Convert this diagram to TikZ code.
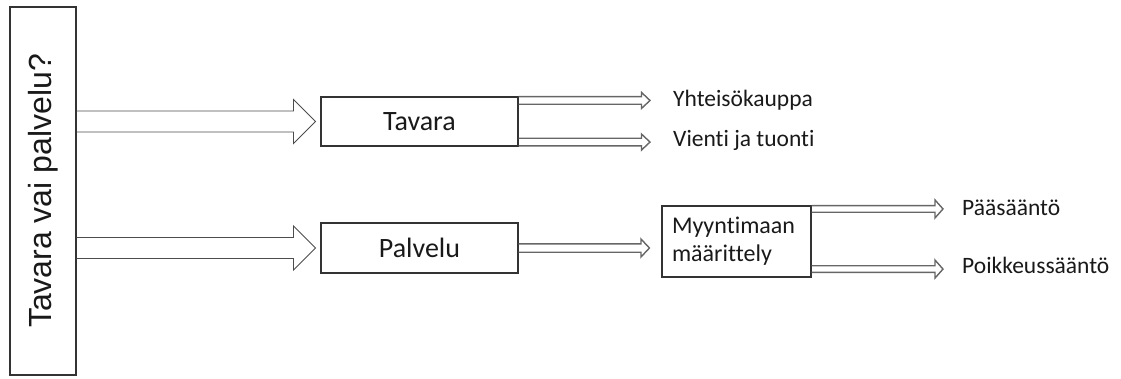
\documentclass[tikz,border=0pt]{standalone}
\usepackage{fontspec}
\setmainfont{Carlito}[Ligatures={NoCommon}]
\newfontfamily\arialfont{Liberation Sans}
\usepackage{graphicx}
\usetikzlibrary{calc}

\begin{document}
\begin{tikzpicture}[x=1pt, y=-1pt,
	box/.style={draw=black!80, line width=1.1pt, inner sep=0pt, text=black!90},
	lbl/.style={anchor=west, inner sep=0pt, text height=15pt, text depth=5pt,
		font=\fontsize{23.5}{28}\selectfont, text=black!90},
	fat/.style n args={3}{draw=black!70, line width=0.9pt,
		to path={let \p1=(\tikztostart), \p2=(\tikztotarget) in
			(\x1,\y1+#1) -- (\x2-#3,\y1+#1) -- (\x2-#3,\y1+#2) -- (\x2,\y1)
			-- (\x2-#3,\y1-#2) -- (\x2-#3,\y1-#1) -- (\x1,\y1-#1)}},
	slim/.style n args={3}{fat={#1}{#2}{#3}, draw=black!60, line width=1.4pt}]
	\useasboundingbox (0,0) rectangle (1121,378);
	% boxes
	\node[box, minimum width=66pt, minimum height=368pt] (q) at (43,191)
		{\rotatebox{90}{\arialfont\fontsize{32}{38}\selectfont Tavara vai palvelu?}};
	\node[box, minimum width=197pt, minimum height=49pt, font=\fontsize{28}{34}\selectfont] (tavara) at (419.5,121.5) {Tavara};
	\node[box, minimum width=197pt, minimum height=50pt, font=\fontsize{28}{34}\selectfont] (palvelu) at (419.5,248) {Palvelu};
	\node[box, minimum width=149pt, minimum height=71pt, inner xsep=10pt, text width=129pt, align=left,
		font=\fontsize{24}{28}\selectfont] (myynti) at (736.5,241.5) {Myyntimaan\\määrittely};
	% labels on the right
	\node[lbl] (yht) at (673,101) {Yhteisökauppa};
	\node[lbl] (vie) at (673,141.5) {Vienti ja tuonti};
	\node[lbl] (paa) at (962,210) {Pääsääntö};
	\node[lbl] (poik) at (962,268.5) {Poikkeussääntö};
	% block arrows
	\draw[fat={10.5pt}{22pt}{22pt}] (q.east |- tavara.west) to ([xshift=-5pt]tavara.west);
	\draw[fat={10.5pt}{22pt}{22pt}] (q.east |- palvelu.west) to ([xshift=-5pt]palvelu.west);
	\draw[slim={3.8pt}{8pt}{8.5pt}] ([yshift=-4pt]tavara.north east) to ([xshift=-23pt]yht.west);
	\draw[slim={3.8pt}{8pt}{8.5pt}] ([yshift=4.5pt]tavara.south east) to ([xshift=-23pt]vie.west);
	\draw[slim={4.2pt}{9pt}{8.5pt}] (palvelu.east) to ([xshift=-12pt]myynti.west);
	\draw[slim={3.3pt}{9pt}{8pt}] ([yshift=-3.5pt]myynti.north east) to ([xshift=-19pt]paa.west);
	\draw[slim={3.3pt}{9pt}{8pt}] ([yshift=8.5pt]myynti.south east) to ([xshift=-19pt]poik.west);
\end{tikzpicture}
\end{document}
